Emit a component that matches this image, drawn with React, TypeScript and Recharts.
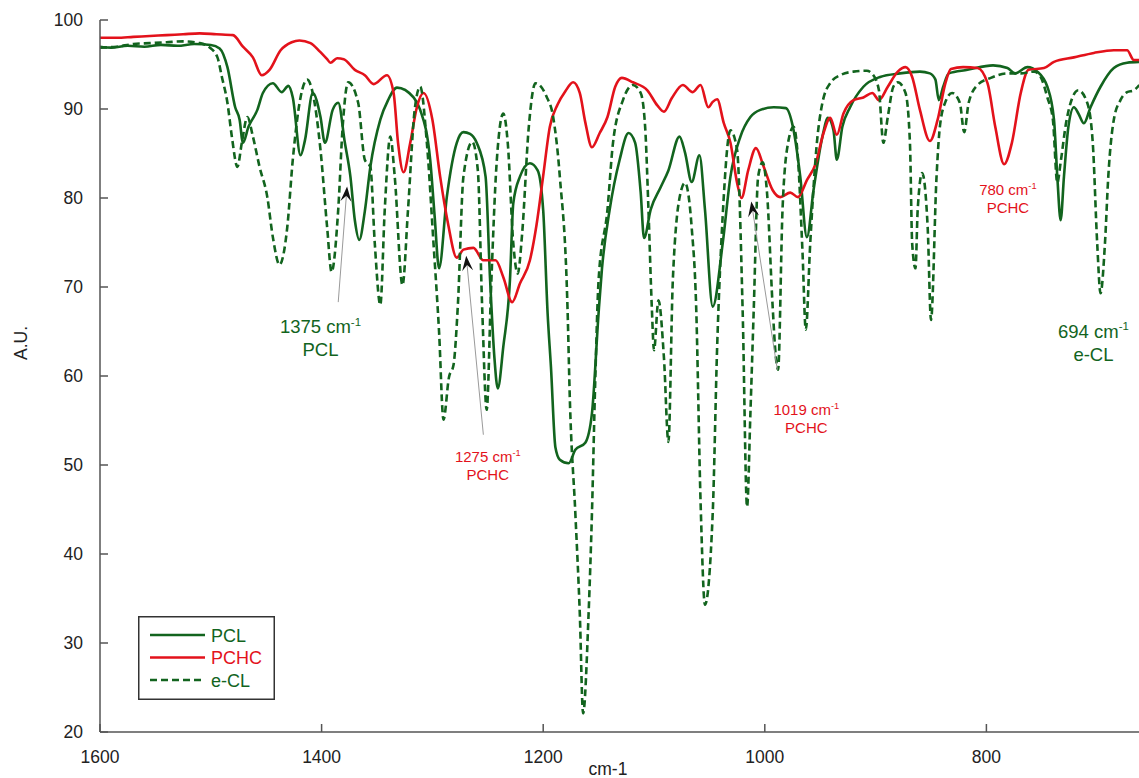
import React from 'react'
import { LineChart, Line, XAxis, YAxis, ReferenceLine, ReferenceDot, Legend } from 'recharts'

const GREEN = '#12641e'
const RED = '#e3121b'
const AXIS = '#555555'
const FONT = '"Liberation Sans", Arial, Helvetica, sans-serif'

const xTicks = [1600, 1400, 1200, 1000, 800]
const yTicks = [20, 30, 40, 50, 60, 70, 80, 90, 100]

// [wavenumber, A.U.]
const pcl: [number, number][] = [
  [1600, 97.0], [1590, 96.9], [1575, 97.1], [1560, 97.0], [1545, 97.2], [1530, 97.1], [1515, 97.3],
  [1500, 97.2], [1492, 96.8], [1485, 94.7], [1478, 90.2], [1474, 88.8], [1471, 86.2], [1466, 88.0],
  [1458, 89.9], [1453, 91.8], [1444, 92.9], [1436, 91.9], [1430, 92.6], [1426, 91.3], [1419, 84.8],
  [1415, 86.5], [1408, 91.8], [1401, 89.1], [1397, 86.2], [1390, 89.9], [1385, 90.7], [1379, 86.2],
  [1374, 82.4], [1370, 77.5], [1366, 75.3], [1361, 78.5], [1356, 83.5], [1347, 88.8], [1340, 91.0],
  [1332, 92.4], [1317, 91.3], [1311, 89.9], [1302, 84.3], [1298, 78.0], [1294, 72.1], [1287, 80.1],
  [1278, 86.2], [1272, 87.4], [1266, 87.2], [1260, 86.2], [1252, 82.4], [1248, 71.0], [1244, 62.0],
  [1241, 58.6], [1236, 63.3], [1230, 70.8], [1227, 79.4], [1221, 82.4], [1212, 83.9], [1205, 83.1],
  [1200, 78.6], [1196, 67.0], [1193, 61.0], [1189, 52.0], [1185, 50.6], [1177, 50.2], [1171, 51.7],
  [1162, 52.5], [1156, 55.8], [1150, 67.1], [1147, 72.0], [1140, 78.7], [1131, 84.3], [1123, 87.3],
  [1117, 86.2], [1112, 80.6], [1109, 75.5], [1103, 78.7], [1094, 81.2], [1087, 83.1], [1077, 86.9],
  [1072, 85.1], [1066, 81.8], [1059, 84.8], [1054, 78.7], [1047, 67.8], [1038, 74.9], [1031, 82.4],
  [1022, 86.9], [1013, 89.1], [1004, 89.9], [992, 90.2], [981, 90.1], [974, 87.6], [968, 82.4],
  [962, 75.6], [956, 80.9], [948, 86.9], [943, 89.0], [938, 87.6], [935, 84.3], [930, 88.0],
  [923, 90.2], [911, 92.5], [896, 93.6], [878, 94.0], [860, 94.2], [851, 94.0], [846, 93.3],
  [843, 91.0], [839, 92.5], [834, 94.0], [817, 94.4], [794, 94.9], [781, 94.6], [774, 94.0],
  [763, 94.7], [754, 94.2], [745, 92.5], [739, 88.8], [736, 82.4], [733, 77.5], [730, 82.4],
  [726, 88.0], [721, 90.2], [717, 89.5], [712, 88.4], [706, 90.2], [697, 92.5], [685, 94.6],
  [673, 95.2], [662, 95.3],
]

const pchc: [number, number][] = [
  [1600, 98.0], [1585, 98.0], [1570, 98.1], [1555, 98.2], [1540, 98.3], [1525, 98.4], [1510, 98.5],
  [1495, 98.4], [1480, 98.3], [1471, 97.0], [1462, 95.8], [1454, 93.8], [1447, 94.4], [1437, 96.6],
  [1427, 97.5], [1420, 97.7], [1410, 97.4], [1402, 96.5], [1395, 95.6], [1392, 95.2], [1386, 95.7],
  [1380, 95.6], [1370, 94.4], [1361, 93.8], [1353, 92.8], [1341, 93.8], [1335, 91.8], [1331, 86.2],
  [1326, 82.9], [1320, 86.2], [1314, 90.2], [1308, 91.8], [1300, 88.8], [1293, 82.4], [1286, 77.2],
  [1278, 73.3], [1272, 74.2], [1263, 74.4], [1254, 73.0], [1243, 73.0], [1236, 71.1], [1228, 68.3],
  [1221, 70.4], [1212, 73.0], [1206, 77.0], [1200, 82.5], [1194, 88.0], [1187, 90.5], [1180, 92.0],
  [1173, 93.0], [1167, 91.8], [1162, 88.5], [1156, 85.7], [1149, 87.3], [1142, 89.1], [1135, 92.5],
  [1129, 93.5], [1119, 93.0], [1106, 92.1], [1097, 90.4], [1091, 89.7], [1084, 91.2], [1074, 92.7],
  [1065, 91.9], [1058, 92.7], [1051, 90.2], [1047, 90.8], [1043, 91.1], [1037, 88.4], [1031, 86.2],
  [1025, 81.7], [1021, 80.0], [1015, 83.1], [1008, 85.6], [1001, 83.5], [993, 80.9], [986, 80.1],
  [977, 80.6], [970, 80.1], [962, 82.0], [954, 83.9], [947, 87.3], [941, 89.0], [935, 87.1],
  [929, 89.5], [920, 91.0], [911, 91.3], [903, 91.8], [897, 91.0], [889, 92.5], [880, 94.2],
  [873, 94.7], [867, 93.6], [860, 89.9], [851, 86.4], [844, 88.8], [837, 92.9], [832, 94.5],
  [821, 94.7], [808, 94.6], [799, 92.9], [792, 88.0], [784, 83.8], [777, 86.2], [769, 91.8],
  [762, 94.4], [748, 94.6], [739, 95.3], [721, 95.8], [703, 96.3], [685, 96.6], [673, 96.6],
  [667, 95.5], [662, 95.5],
]

const ecl: [number, number][] = [
  [1600, 96.9], [1585, 97.0], [1570, 97.3], [1555, 97.4], [1540, 97.5], [1525, 97.6], [1510, 97.4],
  [1501, 96.9], [1494, 95.8], [1490, 93.6], [1485, 90.7], [1481, 86.9], [1476, 83.5], [1472, 86.2],
  [1467, 89.1], [1462, 86.9], [1456, 83.5], [1449, 80.1], [1444, 75.6], [1438, 72.5], [1431, 76.7],
  [1426, 84.3], [1419, 91.3], [1413, 93.3], [1408, 91.8], [1401, 85.4], [1395, 76.7], [1391, 71.7],
  [1385, 78.7], [1381, 88.0], [1376, 93.0], [1367, 90.7], [1361, 84.3], [1356, 83.5], [1352, 74.9],
  [1347, 68.0], [1343, 78.7], [1338, 86.9], [1334, 82.4], [1327, 70.2], [1322, 78.7], [1316, 89.9],
  [1311, 92.5], [1305, 86.2], [1299, 74.9], [1294, 65.0], [1290, 55.1], [1285, 59.9], [1281, 61.2],
  [1277, 68.0], [1272, 82.4], [1264, 86.3], [1259, 83.1], [1255, 67.4], [1251, 56.2], [1247, 70.0],
  [1242, 84.0], [1236, 89.5], [1232, 86.2], [1227, 74.9], [1223, 71.5], [1219, 76.0], [1213, 88.0],
  [1207, 92.9], [1197, 91.4], [1191, 89.1], [1185, 82.4], [1178, 67.4], [1176, 57.6], [1171, 44.6],
  [1167, 33.4], [1164, 22.1], [1159, 33.4], [1156, 44.6], [1153, 59.6], [1150, 70.8], [1142, 78.7],
  [1137, 86.2], [1128, 91.0], [1119, 92.7], [1112, 91.8], [1108, 88.0], [1105, 78.7], [1102, 67.8],
  [1100, 62.9], [1096, 68.5], [1091, 62.0], [1087, 52.6], [1083, 70.8], [1076, 80.6], [1072, 81.7],
  [1066, 76.7], [1062, 68.0], [1058, 46.0], [1054, 34.3], [1047, 44.6], [1043, 63.3], [1038, 78.0],
  [1031, 87.6], [1025, 85.4], [1020, 67.4], [1016, 45.3], [1013, 55.8], [1010, 67.4], [1006, 82.4],
  [1002, 84.0], [998, 80.6], [993, 68.0], [990, 62.1], [988, 60.7], [984, 78.7], [979, 86.2],
  [974, 88.0], [970, 84.3], [966, 74.0], [963, 65.2], [959, 74.9], [953, 86.2], [948, 90.7],
  [941, 92.9], [932, 93.8], [920, 94.2], [908, 94.3], [902, 93.8], [897, 92.1], [893, 86.2],
  [889, 89.1], [884, 92.5], [880, 93.0], [873, 91.8], [869, 86.2], [867, 74.9], [864, 72.1],
  [862, 78.7], [858, 82.8], [853, 76.7], [850, 66.3], [845, 82.4], [842, 88.0], [837, 90.8],
  [831, 91.8], [824, 90.7], [820, 87.4], [816, 90.7], [808, 92.7], [796, 93.5], [781, 94.0],
  [769, 94.0], [757, 94.2], [751, 93.6], [745, 91.3], [740, 88.8], [736, 81.7], [733, 84.0],
  [728, 88.5], [724, 90.7], [717, 92.1], [709, 90.7], [704, 86.2], [700, 74.9], [697, 69.3],
  [693, 74.9], [690, 82.4], [685, 88.8], [679, 91.0], [673, 91.9], [667, 92.1], [662, 92.7],
]

// peak labels: [wavenumber, A.U.] of the first text line, text, colour, font size
const peakLabels = [
  { x: 1401, y: 64.8, band: '1375', name: 'PCL', color: GREEN, size: 18.5, gap: 23 },
  { x: 1250, y: 50.3, band: '1275', name: 'PCHC', color: RED, size: 15, gap: 18 },
  { x: 962.5, y: 55.6, band: '1019', name: 'PCHC', color: RED, size: 15, gap: 18 },
  { x: 780.6, y: 80.3, band: '780', name: 'PCHC', color: RED, size: 15, gap: 18 },
  { x: 703.4, y: 64.3, band: '694', name: 'e-CL', color: GREEN, size: 18.5, gap: 23 },
]

// arrows: tail -> tip, in data units
const arrows = [
  { from: [1385, 68.3], to: [1377, 81.3] },
  { from: [1254, 53.4], to: [1269.5, 73.5] },
  { from: [988.7, 60.7], to: [1012.2, 79.6] },
]

const toPoints = (arr: [number, number][]) => arr.map(([x, y]) => ({ x, y }))

const series = [
  { name: 'PCL', data: toPoints(pcl), color: GREEN, dash: undefined as string | undefined },
  { name: 'PCHC', data: toPoints(pchc), color: RED, dash: undefined as string | undefined },
  { name: 'e-CL', data: toPoints(ecl), color: GREEN, dash: '7 4' },
]

const BottomTick = (props: any) => {
  const { x, y, payload } = props
  return (
    <g>
      <line x1={x} x2={x} y1={y} y2={y - 8} stroke={AXIS} strokeWidth={1.5} />
      <text x={x} y={y + 31} textAnchor="middle" fill="#222" fontSize={17.5} fontFamily={FONT}>
        {payload.value}
      </text>
    </g>
  )
}

const TopTick = (props: any) => {
  const { x, y } = props
  return <line x1={x} x2={x} y1={y} y2={y + 8} stroke={AXIS} strokeWidth={1.5} />
}

const LeftTick = (props: any) => {
  const { x, y, payload } = props
  return (
    <g>
      <line x1={x} x2={x + 8} y1={y} y2={y} stroke={AXIS} strokeWidth={1.5} />
      <text x={x - 17} y={y + 6} textAnchor="end" fill="#222" fontSize={17.5} fontFamily={FONT}>
        {payload.value}
      </text>
    </g>
  )
}

const ArrowShape = (props: any) => {
  const { x1, y1, x2, y2 } = props
  const dx = x2 - x1
  const dy = y2 - y1
  const len = Math.sqrt(dx * dx + dy * dy) || 1
  const ux = dx / len
  const uy = dy / len
  const nx = -uy
  const ny = ux
  const L = 15
  const W = 11
  const bx = x2 - ux * L
  const by = y2 - uy * L
  const notchX = x2 - ux * L * 0.62
  const notchY = y2 - uy * L * 0.62
  const pts = [
    [x2, y2],
    [bx + (nx * W) / 2, by + (ny * W) / 2],
    [notchX, notchY],
    [bx - (nx * W) / 2, by - (ny * W) / 2],
  ]
  return (
    <g>
      <line x1={x1} y1={y1} x2={notchX} y2={notchY} stroke="#9a9a9a" strokeWidth={1} />
      <polygon points={pts.map((p) => p.join(',')).join(' ')} fill="#111" />
    </g>
  )
}

const makeLabelShape = (lab: (typeof peakLabels)[number]) => (props: any) => {
  const { cx, cy } = props
  return (
    <g fontFamily={FONT} fill={lab.color}>
      <text x={cx} y={cy} textAnchor="middle" fontSize={lab.size}>
        {lab.band} cm
        <tspan dy={-lab.size * 0.42} fontSize={lab.size * 0.62}>
          -1
        </tspan>
      </text>
      <text x={cx} y={cy + lab.gap} textAnchor="middle" fontSize={lab.size}>
        {lab.name}
      </text>
    </g>
  )
}

const LegendBox = (props: any) => {
  const items = (props.payload || []) as any[]
  const order = series.map((s) => s.name)
  const sorted = [...items].sort((a, b) => order.indexOf(a.value) - order.indexOf(b.value))
  return (
    <svg width={137} height={84} style={{ display: 'block' }}>
      <rect x={0.75} y={0.75} width={135.5} height={82.5} fill="#fff" stroke="#333" strokeWidth={1.5} />
      {sorted.map((it, i) => {
        const s = series.find((q) => q.name === it.value)
        const cy = 19 + i * 22.5
        return (
          <g key={it.value}>
            <line x1={12} x2={67} y1={cy} y2={cy} stroke={s?.color} strokeWidth={2.5} strokeDasharray={s?.dash} />
            <text x={73} y={cy + 6.5} fill={s?.color} fontSize={18} fontFamily={FONT}>
              {it.value}
            </text>
          </g>
        )
      })}
    </svg>
  )
}

export default function App() {
  return (
    <div style={{ position: 'absolute', left: 0, top: 0, width: 1139, height: 778, overflow: 'hidden', background: '#fff' }}>
      <LineChart width={1208} height={778} margin={{ top: 20, right: 0, bottom: 0, left: 0 }}>
        <XAxis
          xAxisId={0}
          type="number"
          dataKey="x"
          domain={[600, 1600]}
          allowDataOverflow
          reversed
          ticks={xTicks}
          interval={0}
          height={46}
          tickSize={0}
          tickMargin={0}
          tickLine={false}
          axisLine={{ stroke: AXIS, strokeWidth: 1.5 }}
          tick={<BottomTick />}
          label={{
            content: (p: any) => {
              const vb = p.viewBox || { x: 100, y: 732, width: 1108, height: 46 }
              return (
                <text x={vb.x + 508} y={vb.y + 43} textAnchor="middle" fill="#222" fontSize={17.5} fontFamily={FONT}>
                  cm-1
                </text>
              )
            },
          }}
        />
        <XAxis
          xAxisId="top"
          orientation="top"
          type="number"
          dataKey="x"
          domain={[600, 1600]}
          allowDataOverflow
          reversed
          ticks={xTicks}
          interval={0}
          height={0}
          tickSize={0}
          tickMargin={0}
          tickLine={false}
          axisLine={{ stroke: AXIS, strokeWidth: 1.5 }}
          tick={<TopTick />}
        />
        <YAxis
          type="number"
          domain={[20, 100]}
          allowDataOverflow
          ticks={yTicks}
          interval={0}
          width={100}
          tickSize={0}
          tickMargin={0}
          tickLine={false}
          axisLine={{ stroke: AXIS, strokeWidth: 1.5 }}
          tick={<LeftTick />}
          label={{
            content: (p: any) => {
              const vb = p.viewBox || { x: 0, y: 20, width: 100, height: 712 }
              const lx = vb.x + 27
              const ly = vb.y + 323
              return (
                <text x={lx} y={ly} transform={`rotate(-90 ${lx} ${ly})`} textAnchor="middle" fill="#222" fontSize={17.5} fontFamily={FONT}>
                  A.U.
                </text>
              )
            },
          }}
        />
        <Legend
          layout="vertical"
          align="center"
          verticalAlign="middle"
          content={<LegendBox />}
          wrapperStyle={{ left: 138, top: 616, width: 137, height: 84 }}
        />
        {series.map((s) => (
          <Line
            key={s.name}
            name={s.name}
            data={s.data}
            dataKey="y"
            type="monotone"
            stroke={s.color}
            strokeWidth={2.6}
            strokeDasharray={s.dash}
            dot={false}
            activeDot={false}
            isAnimationActive={false}
          />
        ))}
        {arrows.map((a, i) => (
          <ReferenceLine
            key={`arrow-${i}`}
            segment={[
              { x: a.from[0], y: a.from[1] },
              { x: a.to[0], y: a.to[1] },
            ]}
            shape={ArrowShape}
            ifOverflow="visible"
          />
        ))}
        {peakLabels.map((lab) => (
          <ReferenceDot
            key={lab.band}
            x={lab.x}
            y={lab.y}
            r={0}
            shape={makeLabelShape(lab)}
            ifOverflow="visible"
          />
        ))}
      </LineChart>
    </div>
  )
}
